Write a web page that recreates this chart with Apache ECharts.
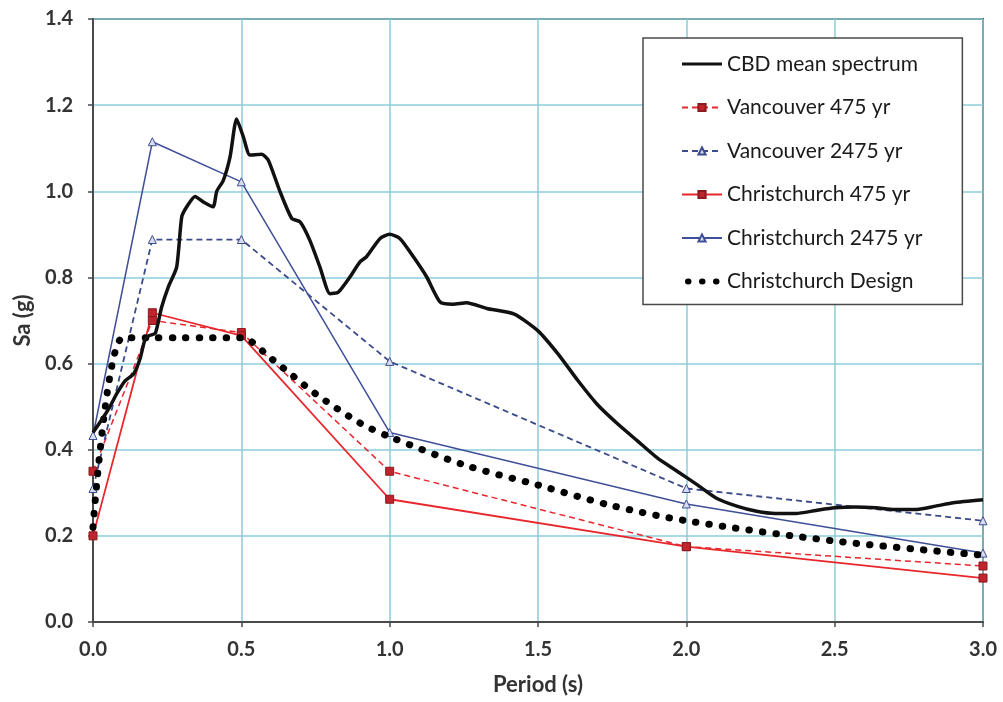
<!DOCTYPE html>
<html>
<head>
<meta charset="utf-8">
<script src="https://cdn.jsdelivr.net/npm/echarts@6/dist/echarts.min.js"></script>
<style>
html,body{margin:0;padding:0;background:#fff;}
#chart{width:1003px;height:702px;}
</style>
</head>
<body>
<div id="chart"></div>
<script>
// ---- data ----
const seriesNames = ["CBD mean spectrum","Vancouver 475 yr","Vancouver 2475 yr","Christchurch 475 yr","Christchurch 2475 yr","Christchurch Design"];
const xTicks = [0,0.5,1.0,1.5,2.0,2.5,3.0];
const yTicks = [0,0.2,0.4,0.6,0.8,1.0,1.2,1.4];

const cbdMean = [[0,0.44],[0.03,0.47],[0.057,0.50],[0.08,0.53],[0.108,0.56],[0.136,0.575],[0.158,0.61],[0.175,0.655],[0.19,0.665],[0.21,0.67],[0.231,0.73],[0.254,0.778],[0.282,0.824],[0.299,0.94],[0.316,0.964],[0.344,0.988],[0.372,0.975],[0.405,0.964],[0.417,1.0],[0.439,1.025],[0.462,1.08],[0.484,1.168],[0.507,1.126],[0.529,1.084],[0.569,1.086],[0.591,1.072],[0.630,1.0],[0.670,0.937],[0.698,0.929],[0.731,0.886],[0.765,0.824],[0.799,0.762],[0.827,0.766],[0.866,0.801],[0.900,0.836],[0.922,0.848],[0.967,0.89],[1.0,0.90],[1.035,0.89],[1.08,0.848],[1.125,0.801],[1.17,0.743],[1.214,0.738],[1.259,0.741],[1.327,0.728],[1.42,0.715],[1.5,0.676],[1.568,0.622],[1.635,0.56],[1.70,0.505],[1.77,0.459],[1.836,0.42],[1.902,0.381],[1.969,0.35],[2.036,0.319],[2.10,0.288],[2.17,0.269],[2.237,0.257],[2.30,0.252],[2.37,0.252],[2.437,0.259],[2.5,0.265],[2.57,0.267],[2.64,0.265],[2.70,0.261],[2.77,0.261],[2.84,0.269],[2.90,0.277],[3.0,0.284]];
const van475 = [[0,0.35],[0.2,0.70],[0.5,0.672],[1.0,0.35],[2.0,0.175],[3.0,0.13]];
const van2475 = [[0,0.31],[0.2,0.888],[0.5,0.888],[1.0,0.605],[2.0,0.31],[3.0,0.235]];
const chc475 = [[0,0.20],[0.2,0.718],[0.5,0.665],[1.0,0.285],[2.0,0.175],[3.0,0.102]];
const chc2475 = [[0,0.433],[0.2,1.115],[0.5,1.022],[1.0,0.44],[2.0,0.274],[3.0,0.16]];
const chcDesign = [[0,0.22],[0.1,0.66],[0.2,0.66],[0.3,0.66],[0.4,0.66],[0.5,0.66],[0.6,0.612],[0.75,0.53],[0.9,0.462],[1.0,0.43],[1.25,0.365],[1.5,0.318],[1.75,0.27],[2.0,0.235],[2.5,0.188],[3.0,0.155]];

// ---- styles ----
const FONT = "Lato, 'Open Sans', sans-serif";
const RED = '#e8262c';
const RED_DK = '#c0242c';
const BLUE = '#3f4f98';
const BLUE_D = '#3b4a8a';
const GRID = '#8ccdd8';
const hidden = {color:'rgba(0,0,0,0)', borderColor:'rgba(0,0,0,0)', borderWidth:0, opacity:0};

const chart = echarts.init(document.getElementById('chart'), null, {renderer:'canvas'});
chart.setOption({
  animation:false,
  backgroundColor:'#fff',
  grid:{left:93, top:19, right:20, bottom:80, show:true, borderColor:'#4a4a4a', borderWidth:2, backgroundColor:'transparent'},
  legend:{
    orient:'vertical', left:643, top:38,
    backgroundColor:'#fff', borderColor:'#4a4a4a', borderWidth:1.5,
    padding:[14,40,11,36],
    itemWidth:40, itemHeight:9, itemGap:19.5,
    textStyle:{fontFamily:FONT, fontSize:21, color:'#1a1a1a', lineHeight:24},
    data:[
      {name:seriesNames[0], itemStyle:hidden, lineStyle:{width:3, color:'#111'}},
      {name:seriesNames[1]},
      {name:seriesNames[2]},
      {name:seriesNames[3]},
      {name:seriesNames[4]},
      {name:seriesNames[5], itemStyle:hidden, lineStyle:{width:6, color:'#000', type:[0.5,13.5], cap:'round', dashOffset:-6}}
    ]
  },
  xAxis:{
    type:'value', min:0, max:3, interval:0.5,
    name:'Period (s)', nameLocation:'middle', nameGap:52,
    nameTextStyle:{fontFamily:FONT, fontSize:22, fontWeight:'bold', color:'#333'},
    axisLine:{show:true, lineStyle:{color:'#4a4a4a', width:2}},
    axisTick:{show:true, length:5, lineStyle:{color:'#4a4a4a', width:1.5}},
    axisLabel:{margin:18, fontFamily:FONT, fontSize:20, fontWeight:'bold', color:'#333', formatter:v=>v.toFixed(1)},
    splitLine:{show:true, lineStyle:{color:GRID, width:1.5}}
  },
  yAxis:{
    type:'value', min:0, max:1.4, interval:0.2,
    name:'Sa (g)', nameLocation:'middle', nameGap:56, nameRotate:90,
    nameTextStyle:{fontFamily:FONT, fontSize:22, fontWeight:'bold', color:'#333'},
    axisLine:{show:true, lineStyle:{color:'#4a4a4a', width:2}},
    axisTick:{show:true, length:5, lineStyle:{color:'#4a4a4a', width:1.5}},
    axisLabel:{margin:20, fontFamily:FONT, fontSize:20, fontWeight:'bold', color:'#333', formatter:v=>v.toFixed(1)},
    splitLine:{show:true, lineStyle:{color:GRID, width:1.5}}
  },
  series:[
    {name:seriesNames[0], type:'line', data:cbdMean, symbol:'none', smooth:0.2, z:5,
     lineStyle:{color:'#111', width:3.5}, itemStyle:{color:'#111'}},
    {name:seriesNames[1], type:'line', data:van475, symbol:'rect', symbolSize:8, z:3,
     lineStyle:{color:RED, width:1.5, type:[6,4]}, itemStyle:{color:RED_DK, borderColor:'#8a1a20', borderWidth:1}},
    {name:seriesNames[2], type:'line', data:van2475, symbol:'triangle', symbolSize:8, z:3,
     lineStyle:{color:BLUE_D, width:1.8, type:[6,4]}, itemStyle:{color:'#d8dcef', borderColor:BLUE_D, borderWidth:1}},
    {name:seriesNames[3], type:'line', data:chc475, symbol:'rect', symbolSize:8, z:3,
     lineStyle:{color:RED, width:1.8}, itemStyle:{color:RED_DK, borderColor:'#8a1a20', borderWidth:1}},
    {name:seriesNames[4], type:'line', data:chc2475, symbol:'triangle', symbolSize:8, z:3,
     lineStyle:{color:BLUE, width:1.5}, itemStyle:{color:'#d8dcef', borderColor:BLUE, borderWidth:1}},
    {name:seriesNames[5], type:'line', data:chcDesign, symbol:'none', smooth:0.3, z:4,
     lineStyle:{color:'#000', width:7, type:[0.5,13], cap:'round'}, itemStyle:{color:'#000'}}
  ]
});
</script>
</body>
</html>
